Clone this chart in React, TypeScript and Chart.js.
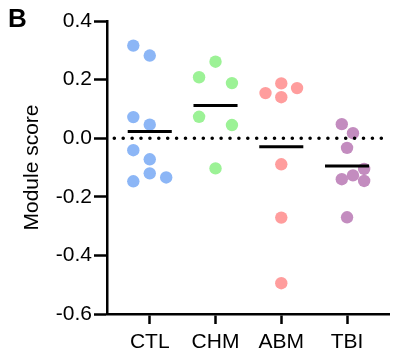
import React, { useEffect, useRef } from "react";
import { Chart, registerables } from "chart.js";

Chart.register(...registerables);

const categories = ["CTL", "CHM", "ABM", "TBI"];
const colors = ["#8cb6f6", "#9cf296", "#ff9d9d", "#c38cbf"];

const ctlValues = [0.316, 0.282, 0.072, 0.046, -0.041, -0.072, -0.12, -0.134, -0.147];
const ctlJitter = [-0.25, 0, -0.25, 0, -0.25, 0, 0, 0.25, -0.25];

const chmValues = [0.261, 0.208, 0.188, 0.073, 0.045, -0.103];
const chmJitter = [0, -0.25, 0.25, -0.25, 0.25, 0];

const abmValues = [0.187, 0.171, 0.154, 0.14, -0.089, -0.271, -0.495];
const abmJitter = [0, 0.24, -0.24, 0, 0, 0, 0];

const tbiValues = [0.048, 0.017, -0.033, -0.105, -0.127, -0.14, -0.146, -0.27];
const tbiJitter = [-0.08, 0.09, 0, 0.26, 0.09, -0.08, 0.26, 0];

const yTicks = [-0.6, -0.4, -0.2, 0.0, 0.2, 0.4];

const groups = [
  { values: ctlValues, jitter: ctlJitter },
  { values: chmValues, jitter: chmJitter },
  { values: abmValues, jitter: abmJitter },
  { values: tbiValues, jitter: tbiJitter },
];

const FONT = "'Liberation Sans', Arial, sans-serif";

export default function App() {
  const ref = useRef<HTMLCanvasElement>(null);

  useEffect(() => {
    document.body.style.margin = "0";
    const canvas = ref.current;
    if (!canvas) return;

    const X_MIN = 0.35;
    const X_MAX = 4.65;

    const pointSets: any[] = groups.map((g, i) => ({
      type: "scatter",
      data: g.values.map((v, j) => ({ x: i + 1 + g.jitter[j], y: v })),
      backgroundColor: colors[i],
      borderColor: colors[i],
      borderWidth: 0,
      pointRadius: 6.2,
      pointHoverRadius: 6.2,
      showLine: false,
      order: 3,
    }));

    const meanSets: any[] = groups.map((g, i) => {
      const m = g.values.reduce((a, b) => a + b, 0) / g.values.length;
      return {
        type: "line",
        data: [
          { x: i + 1 - 0.335, y: m },
          { x: i + 1 + 0.335, y: m },
        ],
        borderColor: "#000",
        borderWidth: 3,
        pointRadius: 0,
        order: 1,
      };
    });

    const zeroSet: any = {
      type: "line",
      data: [
        { x: X_MIN, y: 0 },
        { x: X_MAX, y: 0 },
      ],
      borderColor: "#000",
      borderWidth: 3.6,
      borderDash: [0, 8.9],
      borderDashOffset: 1.6,
      borderCapStyle: "round",
      pointRadius: 0,
      order: 2,
    };

    const chart = new Chart(canvas, {
      type: "scatter",
      data: { datasets: [zeroSet, ...meanSets, ...pointSets] },
      options: {
        animation: false,
        responsive: false,
        devicePixelRatio: 1,
        layout: { padding: { top: 21, right: 0, left: 0, bottom: 0 } },
        plugins: {
          legend: { display: false },
          tooltip: { enabled: false },
        },
        scales: {
          x: {
            type: "linear",
            min: X_MIN,
            max: X_MAX,
            afterBuildTicks: (s: any) => {
              s.ticks = categories.map((_, i) => ({ value: i + 1 }));
            },
            afterFit: (s: any) => {
              s.height = 42;
            },
            ticks: {
              color: "#000",
              font: { family: FONT, size: 21 },
              padding: 6,
              maxRotation: 0,
              autoSkip: false,
              callback: (v: any) => categories[Math.round(Number(v)) - 1] ?? "",
            },
            grid: {
              drawOnChartArea: false,
              tickLength: 10,
              tickColor: "#000",
              tickWidth: 2.5,
            },
            border: { color: "#000", width: 2.5 },
          },
          y: {
            type: "linear",
            min: -0.6,
            max: 0.4,
            afterBuildTicks: (s: any) => {
              s.ticks = yTicks.map((v) => ({ value: v }));
            },
            afterFit: (s: any) => {
              s.width = 107;
            },
            ticks: {
              color: "#000",
              font: { family: FONT, size: 21 },
              padding: 2,
              callback: (v: any) => (Math.round(Number(v) * 10) / 10).toFixed(1),
            },
            grid: {
              drawOnChartArea: false,
              tickLength: 13,
              tickColor: "#000",
              tickWidth: 2.5,
            },
            border: { color: "#000", width: 2.5 },
            title: {
              display: true,
              text: "Module score",
              color: "#000",
              font: { family: FONT, size: 21 },
              padding: { top: 20, bottom: 0 },
            },
          },
        },
      } as any,
    });

    return () => chart.destroy();
  }, []);

  return (
    <div style={{ position: "relative", width: 396, height: 356, background: "#fff" }}>
      <canvas ref={ref} width={396} height={356} style={{ display: "block" }} />
      <div
        style={{
          position: "absolute",
          left: 8,
          top: 5,
          fontFamily: FONT,
          fontWeight: "bold",
          fontSize: 26,
          lineHeight: 1,
          color: "#000",
        }}
      >
        B
      </div>
    </div>
  );
}
